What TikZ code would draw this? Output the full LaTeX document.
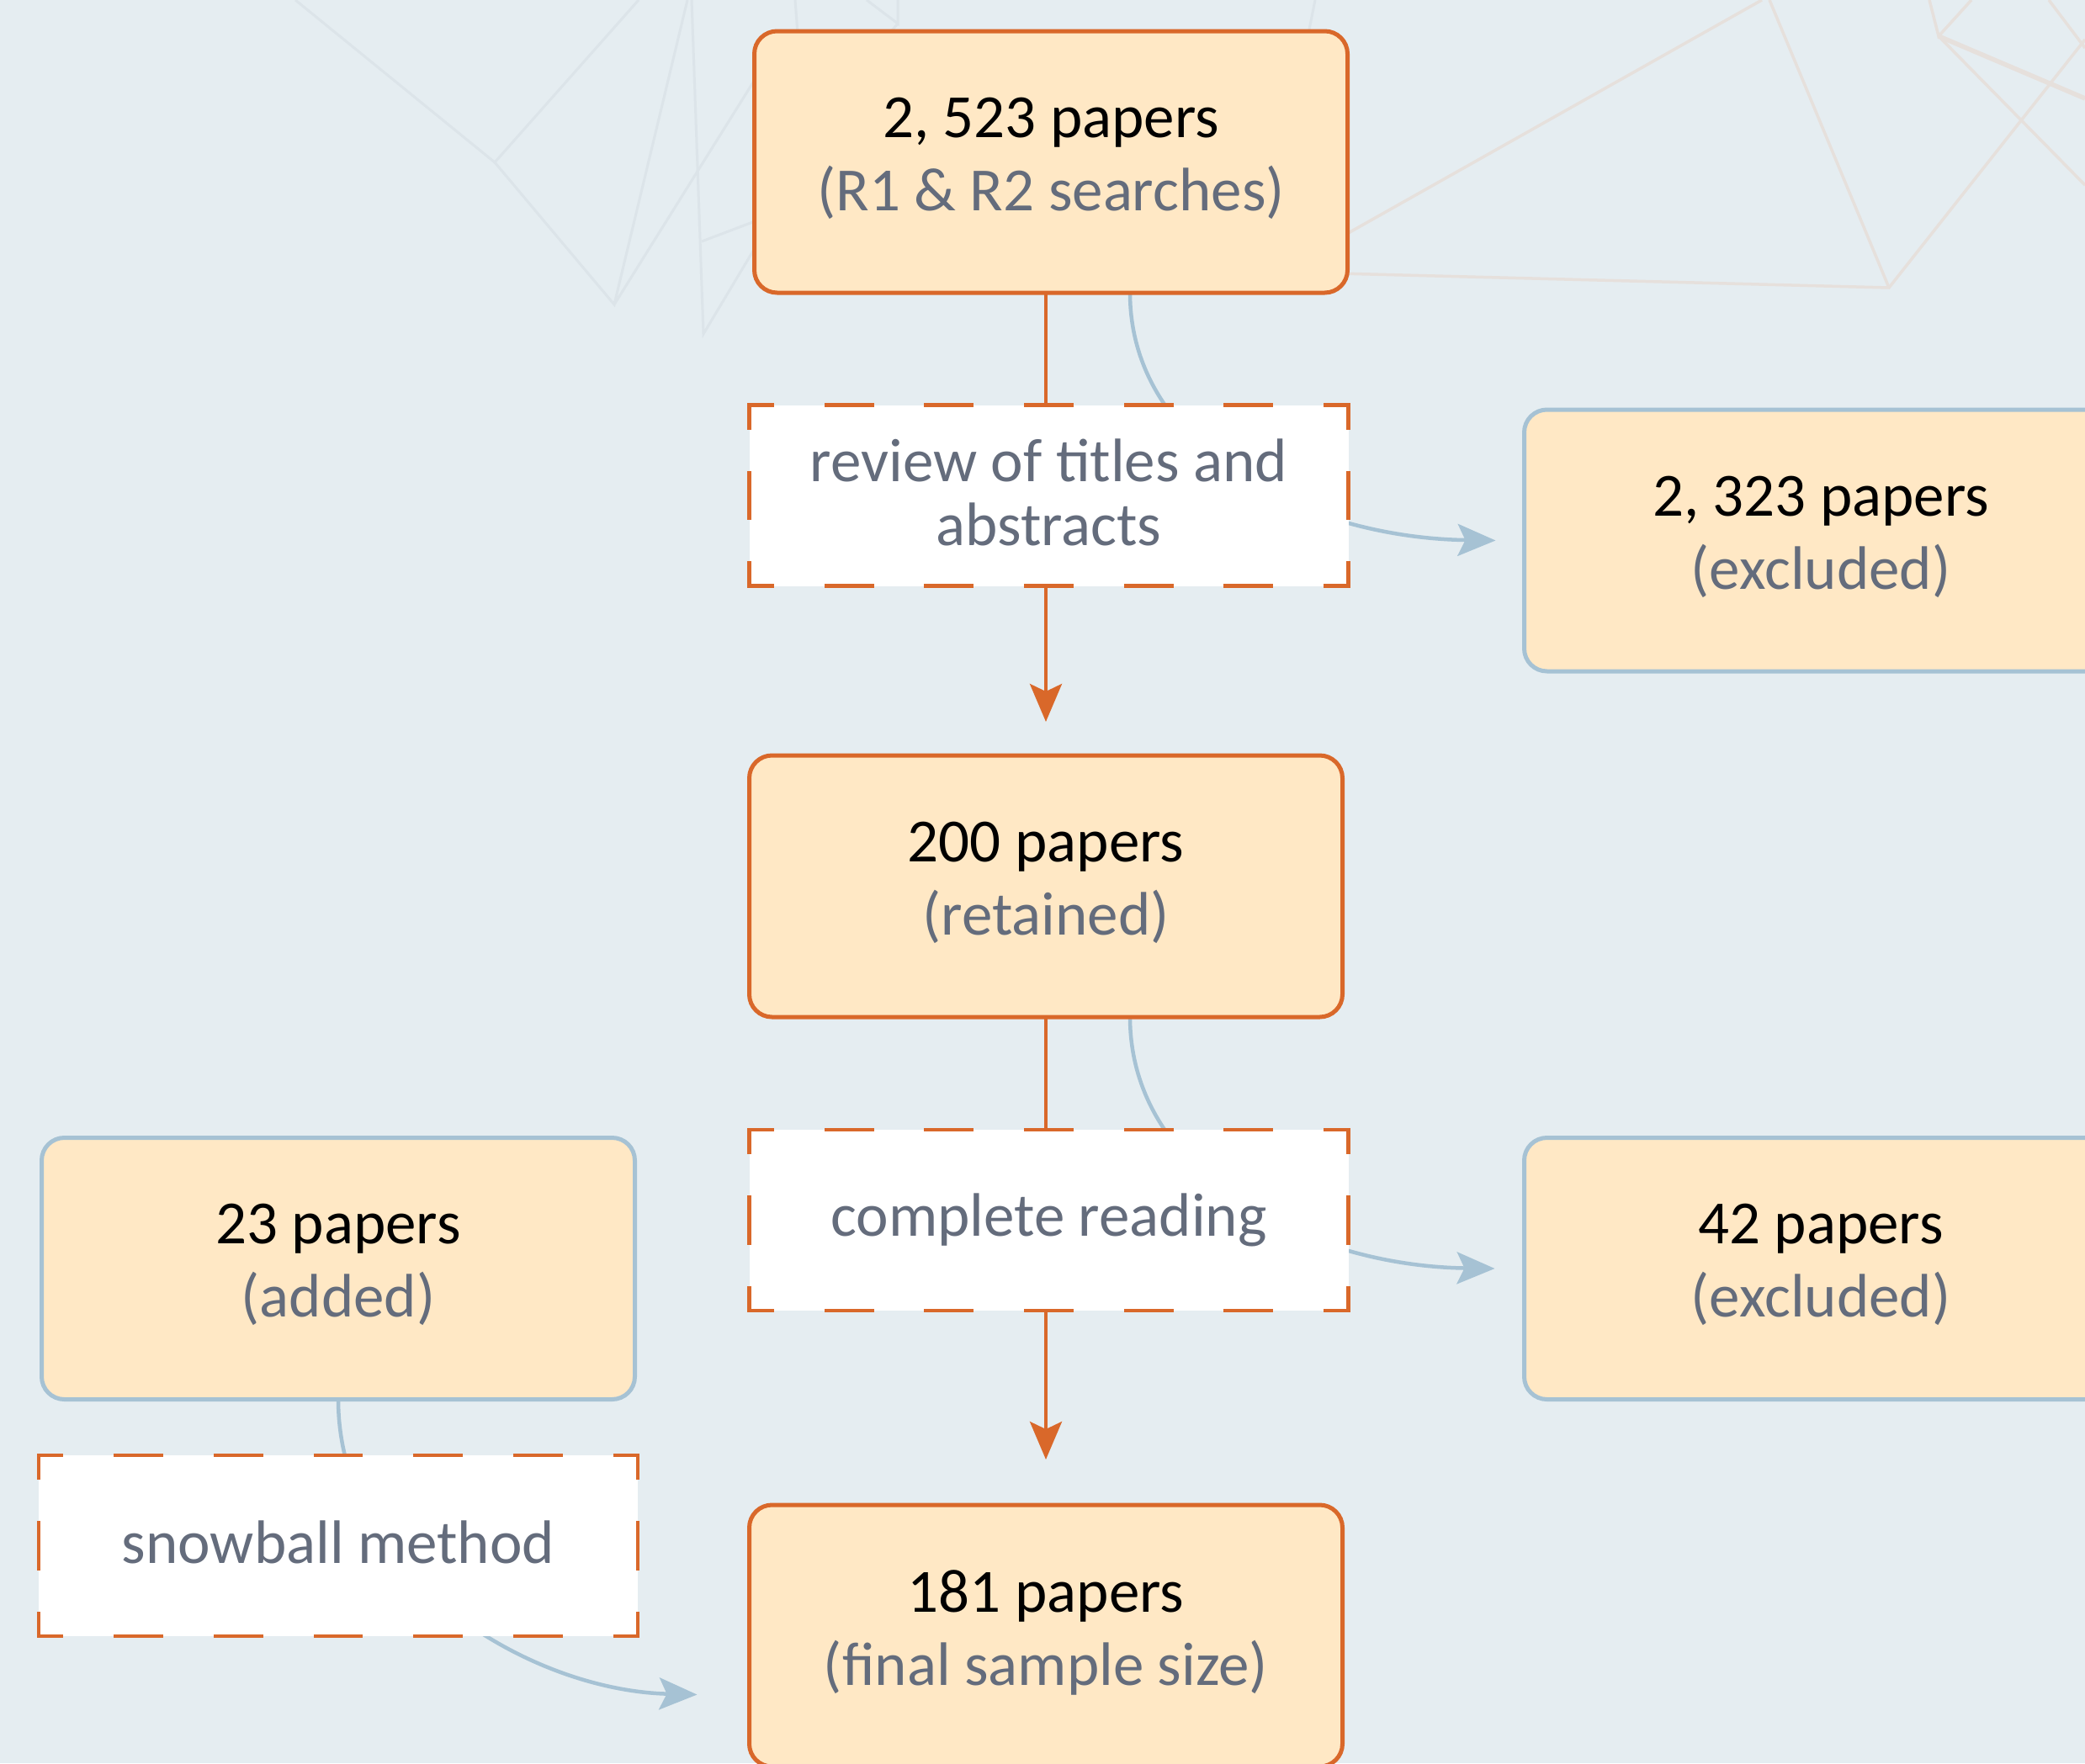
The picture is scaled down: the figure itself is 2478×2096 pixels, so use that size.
\documentclass[tikz,border=0pt]{standalone}
\usepackage{fontspec}
\setmainfont{Carlito}
\usetikzlibrary{arrows.meta}
\definecolor{bgc}{HTML}{E5EDF1}
\definecolor{boxfill}{HTML}{FFE8C5}
\definecolor{orng}{HTML}{D9682A}
\definecolor{bluec}{HTML}{A6C2D4}
\definecolor{txtgray}{HTML}{646C7C}
\definecolor{faintgray}{HTML}{DCE4E9}
\definecolor{faintbeige}{HTML}{E6E0DC}
\pgfdeclarelayer{back}
\pgfdeclarelayer{conn}
\pgfsetlayers{back,conn,main}
\newcommand\dashframe[1]{%
  \draw[dfr, dash pattern=on 54pt off 64.67pt, dash phase=27pt] (#1.north west) -- (#1.north east);
  \draw[dfr, dash pattern=on 54pt off 64.67pt, dash phase=27pt] (#1.south west) -- (#1.south east);
  \draw[dfr, dash pattern=on 54pt off 53.5pt, dash phase=27pt] (#1.north west) -- (#1.south west);
  \draw[dfr, dash pattern=on 54pt off 53.5pt, dash phase=27pt] (#1.north east) -- (#1.south east);
}
\begin{document}
\begin{tikzpicture}[x=1pt,y=-1pt,
  box/.style={rectangle, rounded corners=27pt, fill=boxfill, draw=orng, line width=5pt,
    minimum width=705pt, minimum height=311pt, inner sep=0pt, outer sep=0pt,
    align=center, text=black, font=\fontsize{73}{87}\selectfont, text depth=19pt},
  bluebox/.style={box, draw=bluec},
  dbox/.style={rectangle, fill=white, minimum width=712pt, minimum height=215pt,
    inner sep=0pt, outer sep=0pt, align=center, text=txtgray,
    font=\fontsize{73}{76}\selectfont},
  dfr/.style={draw=orng, line width=4.8pt, line cap=rect},
  flow/.style={draw=orng, line width=4pt, -{Stealth[length=45pt,width=38pt,inset=9pt]}},
  side/.style={draw=bluec, line width=4.5pt, -{Stealth[length=45pt,width=38pt,inset=9pt]}},
  faint/.style={draw=faintgray, line width=3pt},
  faintb/.style={draw=faintbeige, line width=3.5pt}
]
\useasboundingbox (0,0) rectangle (2478,2096);

\begin{pgfonlayer}{back}
\fill[bgc] (0,0) rectangle (2478,2096);
\draw[faint] (351,0) -- (588,193) -- (759,0);
\draw[faint] (588,193) -- (730,362) -- (817,0);
\draw[faint] (730,362) -- (900,90);
\draw[faint] (822,0) -- (836,397) -- (900,290);
\draw[faint] (834,287) -- (900,262);
\draw[faint] (945,0) -- (948,40);
\draw[faint] (1030,0) -- (1067,28) -- (1067,0);
\draw[faint] (1067,28) -- (1040,60);
\draw[faint] (1563,0) -- (1555,40);
\draw[faintb] (1590,284) -- (2094,0);
\draw[faintb] (2103,0) -- (2245,342);
\draw[faintb] (1590,325) -- (2245,342) -- (2478,47);
\draw[faintb] (2293,0) -- (2304,43) -- (2343,0);
\draw[faintb, line width=5.5pt] (2304,43) -- (2478,117);
\draw[faintb] (2304,43) -- (2478,220);
\draw[faintb] (2435,0) -- (2478,57);
\end{pgfonlayer}

% nodes
\node[box] (box1) at (1249,192.5) {2, 523 papers\\\textcolor{txtgray}{(R1 \& R2 searches)}};
\node[dbox, text depth=8pt] (rev1) at (1246.5,589) {review of titles and\\abstracts};
\node[bluebox] (excl1) at (2164,642.5) {2, 323 papers\\\textcolor{txtgray}{(excluded)}};
\node[box] (box200) at (1243,1053.5) {200 papers\\\textcolor{txtgray}{(retained)}};
\node[dbox] (rev2) at (1246.5,1450.5) {complete reading};
\node[bluebox] (excl2) at (2164,1508) {42 papers\\\textcolor{txtgray}{(excluded)}};
\node[bluebox] (box23) at (402,1508) {23 papers\\\textcolor{txtgray}{(added)}};
\node[dbox, text depth=8pt] (snow) at (402,1837.5) {snowball method};
\node[box] (box181) at (1243,1944.5) {181 papers\\\textcolor{txtgray}{(final sample size)}};

\dashframe{rev1}
\dashframe{rev2}
\dashframe{snow}

% connectors
\begin{pgfonlayer}{conn}
\draw[flow, shorten >=40pt] (box200.north |- box1.south) -- (box200.north);
\draw[flow, shorten >=54pt] (box200.south) -- (box181.north);
\draw[side] ([xshift=94pt]box1.south) .. controls +(0,190) and +(-220,-3) .. ([xshift=-34pt]excl1.west);
\draw[side] ([xshift=100pt]box200.south) .. controls +(0,190) and +(-220,-3) .. ([xshift=-35pt]excl2.west);
\draw[side] (box23.south) .. controls +(0,210) and +(-200,-5) .. ([xshift=-62pt,yshift=-70pt]box181.west);
\end{pgfonlayer}
\end{tikzpicture}
\end{document}
